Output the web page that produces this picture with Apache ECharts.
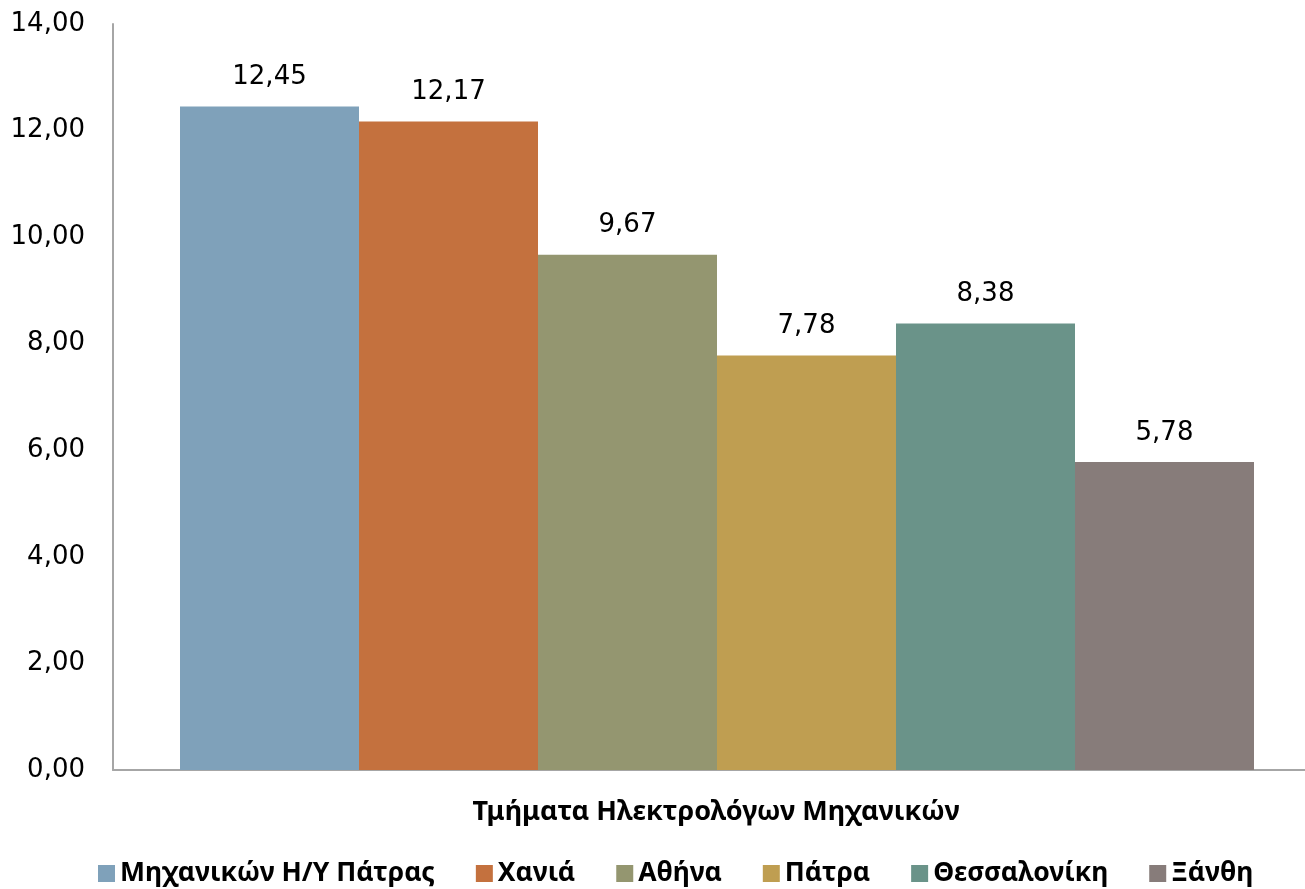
<!DOCTYPE html>
<html>
<head>
<meta charset="utf-8">
<script src="https://cdn.jsdelivr.net/npm/echarts@6/dist/echarts.min.js"></script>
<style>
  html, body { margin: 0; padding: 0; background: #fff; }
  #chart { width: 1305px; height: 889px; }
</style>
</head>
<body>
<div id="chart"></div>
<script>
// κατηγορία και σειρές
var categories = ['Τμήματα Ηλεκτρολόγων Μηχανικών'];
var seriesNames = ['Μηχανικών Η/Υ Πάτρας', 'Χανιά', 'Αθήνα', 'Πάτρα', 'Θεσσαλονίκη', 'Ξάνθη'];
var seriesValues = [12.45, 12.17, 9.67, 7.78, 8.38, 5.78];
var colors = ['#7FA1BA', '#C4713E', '#949670', '#BF9E51', '#6A9389', '#877C7A'];

function fmt(v) {
  return Number(v).toFixed(2).replace('.', ',');
}

var myChart = echarts.init(document.getElementById('chart'));

// κενή σειρά για να μετακινηθούν λίγο οι μπάρες προς τα δεξιά
var series = [{
  name: '_spacer',
  type: 'bar',
  data: ['-'],
  barGap: '0%',
  barWidth: 16,
  silent: true,
  itemStyle: { color: 'transparent' }
}];

seriesNames.forEach(function (name, i) {
  series.push({
    name: name,
    type: 'bar',
    data: [seriesValues[i]],
    barGap: '0%',
    barWidth: 179,
    itemStyle: { color: colors[i] },
    label: {
      show: true,
      position: 'top',
      distance: 16,
      formatter: function (p) { return fmt(p.value); },
      color: '#000',
      fontFamily: 'DejaVu Sans',
      fontSize: 26
    }
  });
});

var option = {
  animation: false,
  color: colors,
  grid: { left: 113, right: 0, top: 24, bottom: 119, containLabel: false },
  legend: {
    top: 855,
    left: 93,
    itemWidth: 17,
    itemHeight: 17,
    itemGap: 41,
    icon: 'rect',
    textStyle: { fontFamily: 'Noto Sans', fontWeight: 'bold', fontSize: 26.5, color: '#000' },
    data: seriesNames
  },
  xAxis: {
    type: 'category',
    data: categories,
    axisLine: { lineStyle: { color: '#A6A6A6', width: 2 } },
    axisTick: { show: false },
    axisLabel: {
      margin: 29,
      padding: [0, 0, 0, 14],
      fontFamily: 'Noto Sans',
      fontWeight: 'bold',
      fontSize: 27,
      color: '#000'
    }
  },
  yAxis: {
    type: 'value',
    min: 0,
    max: 14,
    interval: 2,
    axisLine: { show: true, lineStyle: { color: '#A6A6A6', width: 2 } },
    axisTick: { show: false },
    splitLine: { show: false },
    axisLabel: {
      margin: 28,
      formatter: fmt,
      fontFamily: 'DejaVu Sans',
      fontSize: 26,
      color: '#000'
    }
  },
  series: series
};

myChart.setOption(option);
</script>
</body>
</html>
